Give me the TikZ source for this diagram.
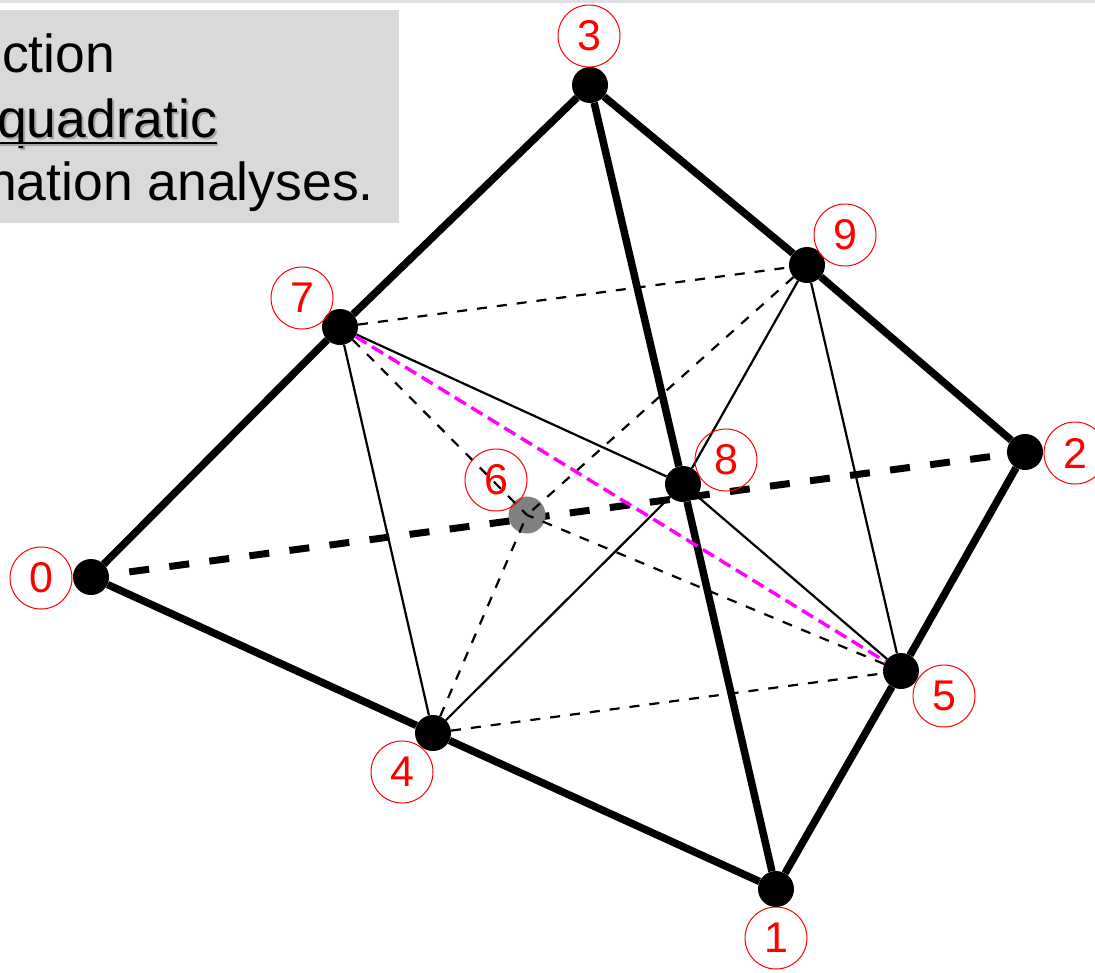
\documentclass[tikz,border=0pt]{standalone}
\usepackage{fontspec}
\setmainfont{Liberation Sans}
\definecolor{boxgray}{HTML}{D9D9D9}
\definecolor{pinkline}{RGB}{255,0,255}
\tikzset{
    vertex/.style={circle,fill=black,inner sep=0pt,minimum size=36pt},
    tag/.style={circle,draw=red,text=red,line width=1pt,inner sep=0pt,minimum size=62pt,font=\fontsize{43}{43}\selectfont},
    boxtext/.style={anchor=base west,inner sep=0pt,font=\fontsize{53.5}{53.5}\selectfont},
    rim/.style={line width=7.5pt},
    thin edge/.style={line width=2.2pt},
    thin dash/.style={line width=2.2pt,dash pattern=on 10pt off 10pt}
}
\begin{document}
\begin{tikzpicture}[x=1pt,y=-1pt]
    \useasboundingbox (0,0) rectangle (1095,972);
    \fill [gray!25] (0,0) rectangle (1095,3);
    \fill [boxgray] (0,10) rectangle (399,223);
    \node [boxtext] (line1) at (2,72) {ction};
    \node [boxtext,text=gray!70] (shadow) at (-1,139) {quadratic};
    \node [boxtext] (line2) at (-3,137) {quadratic};
    \node [boxtext] (line3) at (-13,200) {nation analyses.};
    \draw [gray!70,line width=2.4pt] ([xshift=1pt,yshift=-7.5pt]line2.base west) -- ([xshift=1pt,yshift=-7.5pt]line2.base east);
    \draw [line width=2.4pt] ([yshift=-6pt]line2.base west) -- ([yshift=-6pt]line2.base east);
    % corners and mid points
    \node [vertex] (n0) at (91,577) {};
    \node [vertex] (n1) at (776,889) {};
    \node [vertex] (n2) at (1025,452) {};
    \node [vertex] (n3) at (590,85) {};
    \node [vertex] (n4) at (433,733) {};
    \node [vertex] (n5) at (901,671) {};
    \node [vertex] (n7) at (340,327) {};
    \node [vertex] (n8) at (683,484) {};
    \node [vertex] (n9) at (807,265) {};
    \draw [rim] (n0) -- (n7);
    \draw [rim] (n7) -- (n3);
    \draw [rim] (n3) -- (n9);
    \draw [rim] (n9) -- (n2);
    \draw [rim] (n3) -- (n8);
    \draw [rim] (n8) -- (n1);
    \draw [rim] (n0) -- (n4);
    \draw [rim] (n4) -- (n1);
    \draw [rim] (n1) -- (n5);
    \draw [rim] (n5) -- (n2);
    \draw [rim,line width=7pt,dash pattern=on 20pt off 20.4pt,dash phase=20pt] (n0) -- (n2);
    \node [circle,fill=black!50,inner sep=0pt,minimum size=37pt] (n6) at (527,515) {};
    \draw [thin edge] (n7) -- (n4);
    \draw [thin edge] (n7) -- (n8);
    \draw [thin edge] (n8) -- (n9);
    \draw [thin edge] (n8) -- (n4);
    \draw [thin edge] (n8) -- (n5);
    \draw [thin edge] (n9) -- (n5);
    \draw [thin dash] (n7) -- (n9);
    \draw [thin dash] (n4) -- (n5);
    \draw [thin dash] (n7) -- (n6.center);
    \draw [thin dash] (n9) -- (n6.center);
    \draw [thin dash] (n4) -- (n6.center);
    \draw [thin dash] (n5) -- (n6.center);
    \draw [pinkline,line width=3.4pt,dash pattern=on 13pt off 6.4pt] (n7) -- (n5);
    % number tags
    \node [tag] (t0) at (41,578) {0};
    \node [tag] (t1) at (776,938) {1};
    \node [tag] (t2) at (1075,453) {2};
    \node [tag] (t3) at (589,36) {3};
    \node [tag] (t4) at (402,772) {4};
    \node [tag] (t5) at (944,696) {5};
    \node [tag] (t6) at (496,480) {6};
    \node [tag] (t7) at (302,298) {7};
    \node [tag] (t8) at (726,460) {8};
    \node [tag] (t9) at (845,235) {9};
\end{tikzpicture}
\end{document}
